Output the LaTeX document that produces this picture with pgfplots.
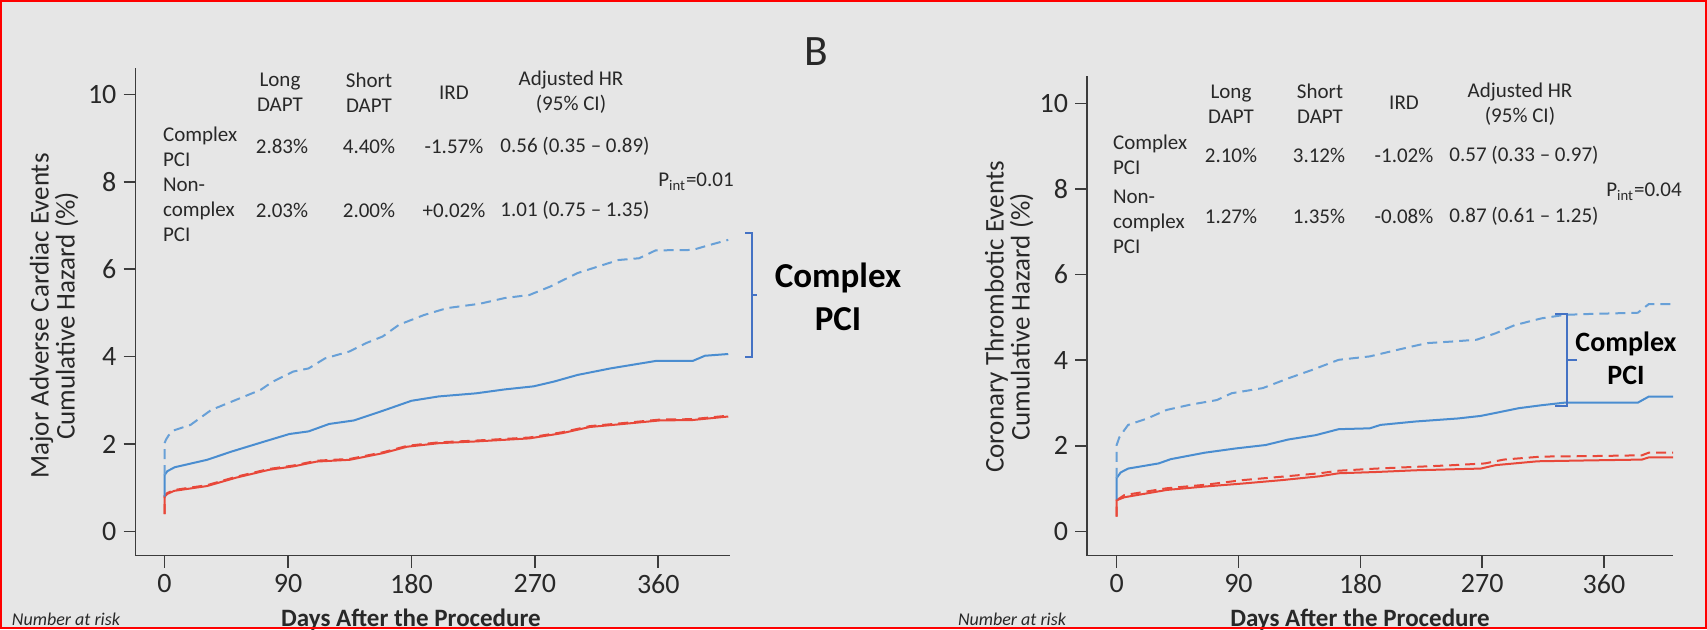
\documentclass[border=0pt]{standalone}
\usepackage{pgfplots}
\pgfplotsset{compat=1.18}
\usepackage{fontspec}
\setmainfont{Carlito}
\definecolor{bg}{RGB}{230,230,230}
\definecolor{txt}{RGB}{40,40,40}
\definecolor{axc}{RGB}{60,60,60}
\definecolor{bsolid}{RGB}{74,141,208}
\definecolor{bdash}{RGB}{104,160,215}
\definecolor{rline}{RGB}{232,72,58}
\definecolor{brk}{RGB}{68,114,196}
\newcommand\tf{\fontsize{10.5}{12.5}\selectfont}
\pgfplotsset{kmaxis/.style={
  scale only axis, axis x line*=bottom, axis y line*=left,
  axis line style={draw=axc, line width=0.8pt},
  tick style={draw=axc, line width=0.8pt},
  tick align=outside, major tick length=6pt,
  xtick={0,90,180,270,360}, ytick={0,2,4,6,8,10},
  tick label style={font=\fontsize{14}{14}\selectfont, text=txt},
  /pgf/number format/assume math mode=true,
  anchor=south west,
  every axis plot/.append style={line width=1pt},
}}
\begin{document}
\begin{tikzpicture}[x=0.5pt,y=0.5pt]
\useasboundingbox (0,0) rectangle (1707,629);
\fill[bg] (0,0) rectangle (1707,629);
% ---------- left panel ----------
\begin{axis}[kmaxis, at={(67.75pt,36.75pt)}, width=297.05pt, height=243.65pt,
  xmin=-21.2, xmax=412, ymin=-0.549, ymax=10.597]
\addplot[rline, solid] coordinates {(0,0.40) (0,0.80) (2,0.86) (7,0.93) (31,1.04) (52,1.23) (76,1.41) (94,1.49) (111,1.60) (135,1.64) (159,1.79) (177,1.94) (200,2.02) (227,2.06) (266,2.13) (290,2.25) (310,2.39) (331,2.45) (361,2.54) (385,2.55) (411,2.63)};
\addplot[rline, dash pattern=on 5pt off 3pt] coordinates {(0,0.40) (0,0.82) (2,0.88) (7,0.95) (31,1.06) (52,1.25) (76,1.43) (94,1.51) (111,1.62) (135,1.66) (159,1.81) (177,1.96) (200,2.04) (227,2.08) (266,2.15) (290,2.27) (310,2.41) (331,2.47) (361,2.56) (385,2.57) (411,2.65)};
\addplot[bsolid, solid] coordinates {(0,0.80) (0,1.29) (2,1.38) (7.4,1.47) (31,1.64) (49,1.83) (73,2.06) (91,2.23) (105,2.29) (120,2.46) (138,2.54) (159,2.76) (180,2.99) (200,3.09) (227,3.16) (248,3.25) (269,3.32) (284,3.43) (301,3.58) (325,3.73) (358,3.90) (385,3.90) (394,4.02) (411,4.06)};
\addplot[bdash, dash pattern=on 5pt off 3pt] coordinates {(0,1.29) (0,2.02) (1,2.1) (3,2.2) (7.4,2.32) (19,2.44) (34,2.78) (52,3.01) (70,3.24) (79,3.43) (94,3.66) (105,3.73) (117,3.96) (135,4.12) (147,4.31) (159,4.46) (171,4.73) (189,4.95) (206,5.11) (230,5.21) (248,5.34) (266,5.41) (281,5.60) (301,5.91) (316,6.06) (331,6.21) (346,6.25) (358,6.43) (385,6.44) (397,6.55) (411,6.67)};
\end{axis}
% ---------- right panel ----------
\begin{axis}[kmaxis, at={(543.5pt,36.75pt)}, width=293pt, height=239.75pt,
  xmin=-21.9, xmax=411, ymin=-0.561, ymax=10.64]
\addplot[rline, solid] coordinates {(0,0.35) (0,0.73) (5.7,0.80) (37,0.97) (65,1.05) (93,1.12) (122,1.20) (150,1.29) (164,1.36) (192,1.39) (221,1.43) (269,1.47) (280,1.55) (311,1.64) (348,1.66) (388,1.68) (393,1.73) (411,1.73)};
\addplot[rline, dash pattern=on 5pt off 3pt] coordinates {(0,0.35) (0,0.73) (5.7,0.85) (37,1.01) (65,1.09) (93,1.20) (122,1.28) (150,1.36) (164,1.42) (192,1.47) (221,1.51) (249,1.55) (272,1.59) (286,1.68) (314,1.75) (348,1.76) (388,1.78) (393,1.84) (411,1.84)};
\addplot[bsolid, solid] coordinates {(0,0.75) (0,1.25) (3,1.38) (8.5,1.47) (31,1.59) (40,1.69) (65,1.84) (88,1.94) (110,2.02) (127,2.15) (147,2.25) (164,2.39) (187,2.41) (195,2.49) (221,2.57) (252,2.64) (269,2.70) (280,2.77) (297,2.88) (314,2.95) (331,3.01) (385,3.01) (393,3.15) (411,3.15)};
\addplot[bdash, dash pattern=on 5pt off 3pt] coordinates {(0,1.25) (0,2.02) (2,2.2) (5.7,2.37) (8.5,2.49) (22.6,2.64) (37,2.84) (54,2.96) (74,3.07) (85,3.23) (108,3.35) (127,3.58) (144,3.77) (164,4.01) (187,4.09) (207,4.24) (229,4.40) (249,4.44) (266,4.48) (280,4.63) (294,4.82) (314,4.98) (331,5.06) (348,5.08) (385,5.11) (393,5.31) (411,5.31)};
\end{axis}
% ---------- labels ----------
\begin{scope}[text=txt]
\node[font=\fontsize{21.7}{22}\selectfont] at (816,577) {B};
% y labels
\node[rotate=90, align=center, font=\fontsize{13.5}{13}\selectfont] at (54,313) {Major Adverse Cardiac Events\\Cumulative Hazard (\%)};
\node[rotate=90, align=center, font=\fontsize{13.5}{13}\selectfont] at (1009,312) {Coronary Thrombotic Events\\Cumulative Hazard (\%)};
% x labels
\node[anchor=base, font=\bfseries\fontsize{12.5}{13}\selectfont] at (411,3) {Days After the Procedure};
\node[anchor=base, font=\bfseries\fontsize{12.5}{13}\selectfont] at (1360,3) {Days After the Procedure};
% number at risk
\node[anchor=base, font=\itshape\fontsize{9}{9}\selectfont] at (66,4) {Number at risk};
\node[anchor=base, font=\itshape\fontsize{9}{9}\selectfont] at (1012,4) {Number at risk};
% left table
\node[align=center, font=\tf] at (280,536.5) {Long\\DAPT};
\node[align=center, font=\tf] at (369,536.5) {Short\\DAPT};
\node[font=\tf] at (454,536) {IRD};
\node[align=center, font=\tf] at (571,536.5) {Adjusted HR\\(95\% CI)};
\node[align=left, anchor=west, font=\tf] at (156,482.5) {Complex\\PCI};
\node[font=\tf] at (282,482.3) {2.83\%};
\node[font=\tf] at (369,482.3) {4.40\%};
\node[font=\tf] at (454,482.3) {-1.57\%};
\node[font=\tf] at (575,482.3) {0.56 (0.35 -- 0.89)};
\node[align=left, anchor=west, font=\tf] at (156,419.5) {Non-\\complex\\PCI};
\node[font=\tf] at (282,419) {2.03\%};
\node[font=\tf] at (369,419) {2.00\%};
\node[font=\tf] at (454,419) {+0.02\%};
\node[font=\tf] at (575,419) {1.01 (0.75 -- 1.35)};
\node[font=\tf] at (696,447.3) {P\textsubscript{int}=0.01};
% right table
\node[align=center, font=\tf] at (1231,525) {Long\\DAPT};
\node[align=center, font=\tf] at (1320,525) {Short\\DAPT};
\node[font=\tf] at (1404,526) {IRD};
\node[align=center, font=\tf] at (1520,525) {Adjusted HR\\(95\% CI)};
\node[align=left, anchor=west, font=\tf] at (1106,474) {Complex\\PCI};
\node[font=\tf] at (1231,474) {2.10\%};
\node[font=\tf] at (1319,474) {3.12\%};
\node[font=\tf] at (1404,474) {-1.02\%};
\node[font=\tf] at (1524,474) {0.57 (0.33 -- 0.97)};
\node[align=left, anchor=west, font=\tf] at (1106,407.5) {Non-\\complex\\PCI};
\node[font=\tf] at (1231,412.3) {1.27\%};
\node[font=\tf] at (1319,412.3) {1.35\%};
\node[font=\tf] at (1404,412.3) {-0.08\%};
\node[font=\tf] at (1524,412.3) {0.87 (0.61 -- 1.25)};
\node[font=\tf] at (1644,437.3) {P\textsubscript{int}=0.04};
\end{scope}
% brackets and annotations
\draw[brk, line width=1pt] (745,396.3) -- (751.7,396.3) -- (751.7,272.3) -- (745,272.3);
\draw[brk, line width=1pt] (751.7,334) -- (757.3,334);
\node[align=center, font=\bfseries\fontsize{17.5}{21.5}\selectfont] at (838,332.5) {Complex\\PCI};
\draw[brk, line width=1pt] (1555,315) -- (1566.5,315) -- (1566.5,223.3) -- (1555,223.3);
\draw[brk, line width=1pt] (1566.5,269) -- (1577,269);
\node[align=center, font=\bfseries\fontsize{14}{16.7}\selectfont] at (1626,270.7) {Complex\\PCI};
% red border
\draw[red, line width=1pt] (1,1) rectangle (1706,628);
\end{tikzpicture}
\end{document}
